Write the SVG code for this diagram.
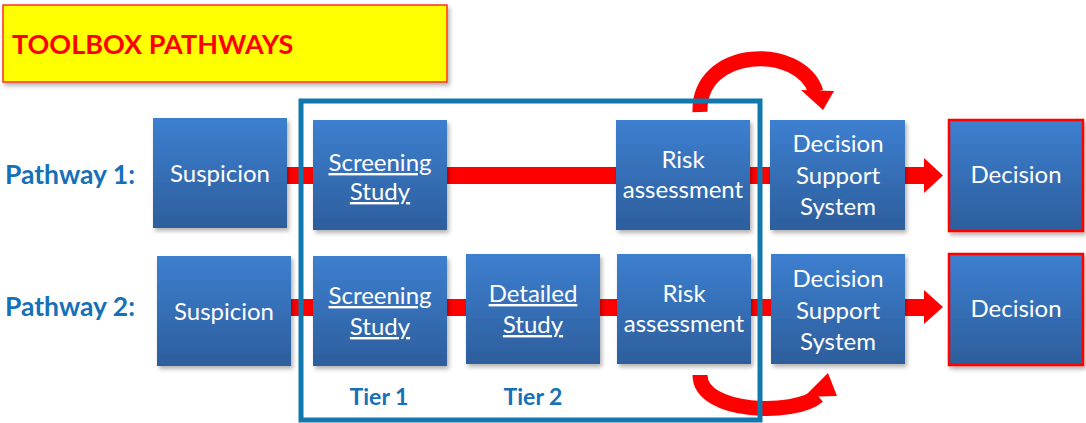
<svg xmlns="http://www.w3.org/2000/svg" width="1086" height="423" viewBox="0 0 1086 423">
<defs>
<linearGradient id="bg" x1="0" y1="0" x2="0" y2="1">
<stop offset="0" stop-color="#3d7fd0"/>
<stop offset="1" stop-color="#2d5e9c"/>
</linearGradient>
<filter id="sh" x="-10%" y="-10%" width="130%" height="130%">
<feDropShadow dx="2" dy="3" stdDeviation="2" flood-color="#000" flood-opacity="0.3"/>
</filter>
<style>
.box{fill:url(#bg);filter:url(#sh)}
.dec{fill:url(#bg);stroke:#ff0000;stroke-width:2.5;filter:url(#sh)}
.t{font-family:Lato,"Open Sans",sans-serif;font-size:24px;fill:#ffffff;text-anchor:middle}
.u{text-decoration:underline}
.lbl{font-family:Lato,"Open Sans",sans-serif;font-size:26.5px;font-weight:bold;fill:#1570b8}
.tier{font-family:Lato,"Open Sans",sans-serif;font-size:23px;font-weight:bold;fill:#1570b8;text-anchor:middle}
.bar{fill:#ff0000}
.arc{fill:none;stroke:#ff0000;stroke-width:15}
</style>
</defs>
<rect width="1086" height="423" fill="#ffffff"/>

<g id="title">
<rect x="3" y="5" width="444" height="77" fill="#ffff00" stroke="#ff3020" stroke-width="1.5" filter="url(#sh)"/>
<text x="12" y="54" font-family="Lato,'Open Sans',sans-serif" font-size="27" font-weight="bold" fill="#ff0000">TOOLBOX PATHWAYS</text>
</g>

<g id="connectors">
<rect class="bar" x="285" y="167" width="641" height="17"/>
<polygon class="bar" points="924,158 943,175.5 924,193"/>
<rect class="bar" x="289" y="299" width="637" height="17"/>
<polygon class="bar" points="924,290 943,307 924,324"/>
<path class="arc" d="M700,112 C698,47 800,43 816,92"/>
<polygon class="bar" points="801,90 834,91 823,110"/>
<path class="arc" d="M700,375 C700,414 795,416 818,396"/>
<polygon class="bar" points="804,397 828,373 837,396"/>
</g>

<g id="labels">
<text class="lbl" x="5" y="184">Pathway 1:</text>
<text class="lbl" x="5" y="316">Pathway 2:</text>
<text class="tier" x="379" y="405">Tier 1</text>
<text class="tier" x="533" y="405">Tier 2</text>
</g>

<g id="p1-suspicion"><rect class="box" x="153" y="118" width="134" height="110"/><text class="t" x="220" y="182">Suspicion</text></g>
<g id="p1-screening"><rect class="box" x="313" y="120" width="134" height="110"/><text class="t u" x="380" y="171">Screening</text><text class="t u" x="380" y="200">Study</text></g>
<g id="p1-risk"><rect class="box" x="616" y="120" width="134" height="110"/><text class="t" x="683" y="168">Risk</text><text class="t" x="683" y="198">assessment</text></g>
<g id="p1-dss"><rect class="box" x="770" y="120" width="135" height="110"/><text class="t" x="838" y="152">Decision</text><text class="t" x="838" y="184">Support</text><text class="t" x="838" y="215">System</text></g>
<g id="p1-decision"><rect class="dec" x="949" y="120" width="134" height="111"/><text class="t" x="1016" y="183">Decision</text></g>

<g id="p2-suspicion"><rect class="box" x="157" y="256" width="134" height="110"/><text class="t" x="224" y="320">Suspicion</text></g>
<g id="p2-screening"><rect class="box" x="313" y="256" width="134" height="110"/><text class="t u" x="380" y="304">Screening</text><text class="t u" x="380" y="335">Study</text></g>
<g id="p2-detailed"><rect class="box" x="466" y="254" width="134" height="110"/><text class="t u" x="533" y="302">Detailed</text><text class="t u" x="533" y="333">Study</text></g>
<g id="p2-risk"><rect class="box" x="617" y="254" width="134" height="110"/><text class="t" x="684" y="302">Risk</text><text class="t" x="684" y="332">assessment</text></g>
<g id="p2-dss"><rect class="box" x="771" y="254" width="134" height="110"/><text class="t" x="838" y="287">Decision</text><text class="t" x="838" y="319">Support</text><text class="t" x="838" y="350">System</text></g>
<g id="p2-decision"><rect class="dec" x="949" y="254" width="134" height="111"/><text class="t" x="1016" y="317">Decision</text></g>

<g id="tier-frame">
<rect x="301" y="101" width="459" height="319" fill="none" stroke="#1178ad" stroke-width="5"/>
</g>
</svg>
